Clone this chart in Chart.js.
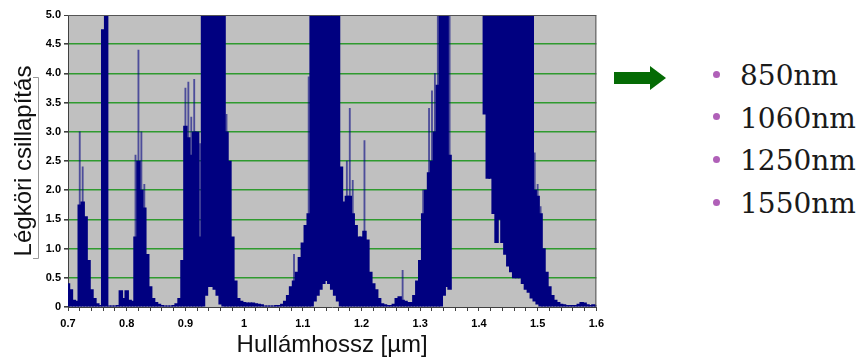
<!DOCTYPE html>
<html lang="hu">
<head>
<meta charset="UTF-8">
<title>Légköri csillapítás</title>
<script src="https://cdn.jsdelivr.net/npm/chart.js"></script>
<style>
  html, body { margin: 0; padding: 0; background: #fff; }
  body { width: 857px; height: 360px; position: relative; overflow: hidden; }
  #wrap { position: absolute; left: 0; top: 0; width: 610px; height: 360px; }
  #arrow { position: absolute; left: 614px; top: 66px; }
  .dot { position: absolute; width: 7px; height: 7px; border-radius: 50%; background: #b060b8; }
  .item { position: absolute; left: 740px; font: 28px "DejaVu Serif", serif; line-height: 28px; color: #1a1a1a; white-space: nowrap; }
</style>
</head>
<body>
<div id="wrap"><canvas id="spectrum" width="610" height="360"></canvas></div>

<svg id="arrow" width="54" height="26" viewBox="0 0 54 26">
  <path d="M0 6 H36 V0 L52 12 L36 24 V18 H0 Z" fill="#056b05"/>
</svg>

<div class="dot" style="left:713px;top:71px"></div>
<div class="item" style="top:62px">850nm</div>
<div class="dot" style="left:713px;top:113px"></div>
<div class="item" style="top:105px">1060nm</div>
<div class="dot" style="left:713px;top:156px"></div>
<div class="item" style="top:147px">1250nm</div>
<div class="dot" style="left:713px;top:199px"></div>
<div class="item" style="top:190px">1550nm</div>

<script>
// wavelength grid (µm), one bin every 0.005
const wlStart = 0.70;
const wlStep = 0.005;

// upper edge of the trace in each bin (attenuation)
const attHigh = [
  0.40, 0.30, 0.12, 0.10, 1.75, 1.80, 1.55, 0.80, 0.30, 0.15,   // 0.700
  0.06, 0.03, 4.75, 5.20, 0.02, 0.02, 0.02, 0.03, 0.28, 0.15,   // 0.750
  0.28, 0.12, 0.10, 1.20, 2.50, 2.00, 1.70, 0.90, 0.35, 0.15,   // 0.800
  0.08, 0.05, 0.03, 0.02, 0.02, 0.02, 0.03, 0.06, 0.15, 0.80,   // 0.850
  3.10, 2.90, 2.60, 3.00, 3.00, 1.20, 5.50, 5.50, 5.50, 5.50,   // 0.900
  5.50, 5.50, 5.50, 5.50, 3.00, 2.50, 1.20, 0.45, 0.15, 0.10,   // 0.950
  0.08, 0.07, 0.07, 0.07, 0.06, 0.05, 0.04, 0.02, 0.02, 0.02,   // 1.000
  0.02, 0.03, 0.03, 0.05, 0.10, 0.20, 0.35, 0.45, 0.60, 0.85,   // 1.050
  1.10, 1.40, 1.60, 5.50, 5.50, 5.50, 5.50, 5.50, 5.50, 5.50,   // 1.100
  5.50, 5.50, 5.50, 2.40, 1.80, 1.90, 1.90, 1.60, 1.40, 1.20,   // 1.150
  1.20, 1.30, 1.15, 0.60, 0.40, 0.30, 0.15, 0.06, 0.04, 0.03,   // 1.200
  0.03, 0.05, 0.15, 0.18, 0.12, 0.10, 0.08, 0.08, 0.20, 0.45,   // 1.250
  0.80, 1.60, 2.00, 2.30, 2.50, 3.00, 3.80, 5.50, 5.50, 5.50,   // 1.300
  2.60, 0.00, 0.00, 0.00, 0.00, 0.00, 0.00, 0.00, 0.00, 0.00,   // 1.350
  0.00, 0.00, 5.50, 5.50, 5.50, 5.50, 5.50, 5.50, 5.50, 5.50,   // 1.400
  5.50, 5.50, 5.50, 5.50, 5.50, 5.50, 5.50, 5.50, 5.50, 2.00,   // 1.450
  1.90, 1.60, 1.00, 0.60, 0.35, 0.20, 0.12, 0.08, 0.05, 0.04,   // 1.500
  0.03, 0.03, 0.03, 0.03, 0.05, 0.08, 0.07, 0.04, 0.03, 0.04,   // 1.550
  0.03                                                          // 1.600
];

// lower edge of the trace (grey gaps under the dense blocks)
const attLow = [
  0, 0, 0, 0, 0, 0, 0, 0, 0, 0,
  0, 0, 0, 0, 0, 0, 0, 0, 0, 0,
  0, 0, 0, 0, 0, 0, 0, 0, 0, 0,
  0, 0, 0, 0, 0, 0, 0, 0, 0, 0,
  0, 0, 0, 0, 0, 0, 0, 0.20, 0.35, 0.35,
  0.30, 0.20, 0.05, 0, 0, 0, 0, 0, 0, 0,
  0, 0, 0, 0, 0, 0, 0, 0, 0, 0,
  0, 0, 0, 0, 0, 0, 0, 0, 0, 0,
  0, 0, 0, 0, 0.10, 0.20, 0.30, 0.40, 0.45, 0.40,
  0.30, 0.20, 0.10, 0, 0, 0, 0, 0, 0, 0,
  0, 0, 0, 0, 0, 0, 0, 0, 0, 0,
  0, 0, 0, 0, 0, 0, 0, 0, 0, 0,
  0, 0, 0, 0, 0, 0, 0, 0, 0.20, 0.35,
  0.30, 0, 0, 0, 0, 0, 0, 0, 0, 0,
  0, 0, 3.30, 2.20, 2.20, 1.60, 1.10, 1.50, 1.10, 0.90,
  0.70, 0.60, 0.50, 0.50, 0.50, 0.40, 0.30, 0.25, 0.15, 0.10,
  0.05, 0, 0, 0, 0, 0, 0, 0, 0, 0,
  0, 0, 0, 0, 0, 0, 0, 0, 0, 0,
  0
];

// single thin spikes sticking out above the trace (null = none)
const attSpike = [
  null, null, null, null, 3.00, 2.40, null, null, null, null,
  null, null, null, null, null, null, null, null, null, null,
  null, null, null, 2.60, 4.40, 3.00, 2.10, null, null, null,
  null, null, null, null, null, null, null, null, null, null,
  3.75, 3.85, 3.25, 3.90, null, 2.80, null, null, null, null,
  null, null, null, null, 3.30, null, null, null, null, null,
  null, null, null, null, null, null, null, null, null, null,
  null, null, null, null, null, null, null, 0.90, null, null,
  null, null, 3.94, null, null, null, null, null, null, null,
  null, null, null, null, null, 2.50, 3.40, 2.17, null, null,
  null, 2.85, null, null, null, null, null, null, null, null,
  null, null, null, null, 0.63, null, null, null, null, null,
  null, 2.00, null, 3.40, 3.70, 4.00, 5.50, null, null, null,
  5.50, null, null, null, null, null, null, null, null, null,
  null, null, null, null, null, null, null, null, null, null,
  null, null, null, null, null, null, null, null, null, 2.64,
  2.10, 1.72, null, null, null, null, null, null, null, null,
  null, null, null, null, null, null, null, null, null, null,
  null
];

const wl = i => +(wlStart + i * wlStep).toFixed(3);
// empty bins (no trace) are left out so nothing is drawn on the baseline there
const bodyData = attHigh
  .map((h, i) => (h > 0 ? { x: wl(i), y: [attLow[i], h] } : null))
  .filter(Boolean);
const spikeData = attSpike
  .map((s, i) => (s === null ? null : { x: wl(i), y: [attHigh[i], s] }))
  .filter(Boolean);

const tickFont = { family: '"Liberation Sans", Arial, sans-serif', size: 11, weight: 'bold' };
const titleFont = { family: '"Liberation Sans", Arial, sans-serif', size: 24 };

// grey plot area, frame and the little bracket next to the y title
const plotFrame = {
  id: 'plotFrame',
  beforeDraw(chart) {
    const { ctx, chartArea: a } = chart;
    ctx.save();
    ctx.fillStyle = '#c0c0c0';
    ctx.fillRect(a.left, a.top, a.width, a.height);
    ctx.restore();
  },
  afterDraw(chart) {
    const { ctx, chartArea: a } = chart;
    ctx.save();
    ctx.strokeStyle = '#555';
    ctx.lineWidth = 1;
    ctx.beginPath();
    ctx.moveTo(a.left, a.top + 0.5);
    ctx.lineTo(a.right - 0.5, a.top + 0.5);
    ctx.lineTo(a.right - 0.5, a.bottom);
    ctx.stroke();
    ctx.strokeStyle = '#999';
    ctx.beginPath();
    ctx.moveTo(33, 77.5); ctx.lineTo(38.5, 77.5); ctx.lineTo(38.5, 258.5); ctx.lineTo(33, 258.5);
    ctx.stroke();
    ctx.restore();
  }
};

new Chart(document.getElementById('spectrum'), {
  type: 'bar',
  data: {
    datasets: [
      {
        data: bodyData,
        backgroundColor: '#000080',
        borderWidth: 0,
        grouped: false,
        barThickness: 3.8
      },
      {
        data: spikeData,
        backgroundColor: 'rgba(0, 0, 128, 0.6)',
        borderWidth: 0,
        grouped: false,
        barThickness: 1.2
      }
    ]
  },
  options: {
    responsive: false,
    animation: false,
    datasets: { bar: { grouped: false } },
    layout: { padding: { top: 15, right: 11, left: 0, bottom: 0 } },
    plugins: { legend: { display: false }, tooltip: { enabled: false } },
    scales: {
      x: {
        type: 'linear',
        min: 0.7,
        max: 1.6,
        offset: false,
        afterFit: s => { s.height = 53; },
        border: { color: '#404040' },
        grid: { offset: false, drawOnChartArea: false, tickLength: 4, tickColor: '#404040' },
        ticks: {
          stepSize: 0.02,
          autoSkip: false,
          maxRotation: 0,
          padding: 6,
          color: '#000',
          font: tickFont,
          callback: v => (Math.abs(v * 10 - Math.round(v * 10)) < 1e-6 ? String(Math.round(v * 10) / 10) : '')
        },
        title: {
          display: true,
          text: 'Hullámhossz [µm]',
          color: '#111',
          font: titleFont,
          padding: { top: 0, bottom: 0 }
        }
      },
      y: {
        min: 0,
        max: 5,
        afterFit: s => { s.width = 68; },
        border: { color: '#404040' },
        grid: {
          color: c => (c.tick.value === 0 ? 'rgba(0,0,0,0)' : c.tick.value === 5 ? '#555' : '#2f9a2f'),
          lineWidth: c => (c.tick.value === 5 ? 1 : 1.6),
          tickLength: 4,
          tickColor: '#404040'
        },
        ticks: { stepSize: 0.5, padding: 3, color: '#000', font: tickFont },
        title: {
          display: true,
          text: 'Légköri csillapítás',
          color: '#111',
          font: titleFont,
          padding: { top: 10, bottom: 0 }
        }
      }
    }
  },
  plugins: [plotFrame]
});
</script>
</body>
</html>
